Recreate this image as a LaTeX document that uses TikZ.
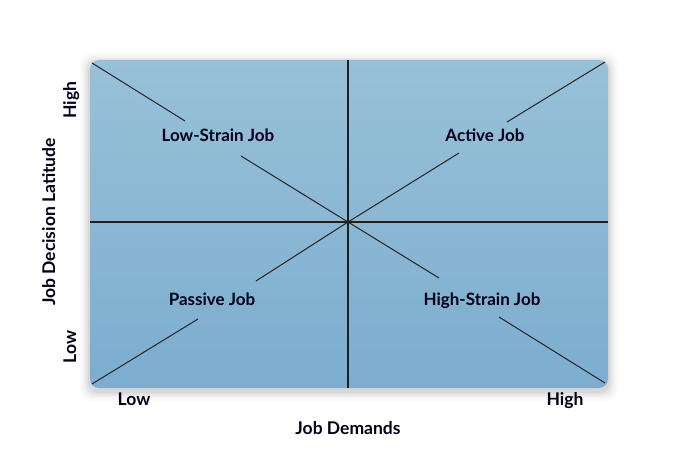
\documentclass[tikz,border=0pt]{standalone}
\usepackage{fontspec}
\setmainfont{Lato}
\begin{document}
\begin{tikzpicture}[x=1pt,y=-1pt,
  lbl/.style={font=\fontsize{17}{19}\selectfont\bfseries, text=black!90!blue, inner sep=0pt, anchor=base},
  axl/.style={lbl, font=\fontsize{17.5}{19}\selectfont\bfseries},
  axisline/.style={line width=1.1pt, draw=black!88},
  diag/.style={line width=1pt, draw=black!72!gray}]
\useasboundingbox (0,0) rectangle (700,457);
\fill[white] (0,0) rectangle (700,457);
% soft shadow
\foreach \i/\o in {10/0.015,8/0.02,6/0.03,4/0.04,2/0.05}{
  \fill[black, opacity=\o, rounded corners=10pt] (90-\i,60-\i+3) rectangle (608+\i,388+\i+3);
}
% panel
\shade[rounded corners=9pt, top color={rgb,255:red,152;green,193;blue,216}, bottom color={rgb,255:red,124;green,173;blue,207}] (90,60) rectangle (608,388);
% coordinates
\coordinate (C) at (348,222);
\coordinate (TL) at (92,63);
\coordinate (TR) at (605,62);
\coordinate (BL) at (92,384);
\coordinate (BR) at (605,383);
\coordinate (T) at (348,60);
\coordinate (B) at (348,388);
\coordinate (L) at (90,222);
\coordinate (R) at (608,222);
% axes
\draw[axisline] (T) -- (B);
\draw[axisline] (L) -- (R);
% labels
\node[lbl] (ls) at (218,142) {Low-Strain Job};
\node[lbl] (aj) at (485,142) {Active Job};
\node[lbl] (pj) at (212,305) {Passive Job};
\node[lbl] (hs) at (482,305) {High-Strain Job};
% diagonals (broken around labels)
\coordinate (ls1) at (185,121); \coordinate (ls2) at (241,156);
\coordinate (aj1) at (507,122); \coordinate (aj2) at (459,153);
\coordinate (pj1) at (256,281); \coordinate (pj2) at (198,319);
\coordinate (hs1) at (439,278); \coordinate (hs2) at (499,317);
\draw[diag] (TL) -- (ls1);
\draw[diag] (ls2) -- (C);
\draw[diag] (TR) -- (aj1);
\draw[diag] (aj2) -- (C);
\draw[diag] (C) -- (pj1);
\draw[diag] (pj2) -- (BL);
\draw[diag] (C) -- (hs1);
\draw[diag] (hs2) -- (BR);
% axis labels
\node[axl] (xl) at (134,405) {Low};
\node[axl] (xh) at (565,405) {High};
\node[axl] (xt) at (348,434) {Job Demands};
\node[axl, rotate=90] (yl) at (76,347) {Low};
\node[axl, rotate=90] (yh) at (76,100) {High};
\node[axl, rotate=90] (yt) at (55,222) {Job Decision Latitude};
\end{tikzpicture}
\end{document}
